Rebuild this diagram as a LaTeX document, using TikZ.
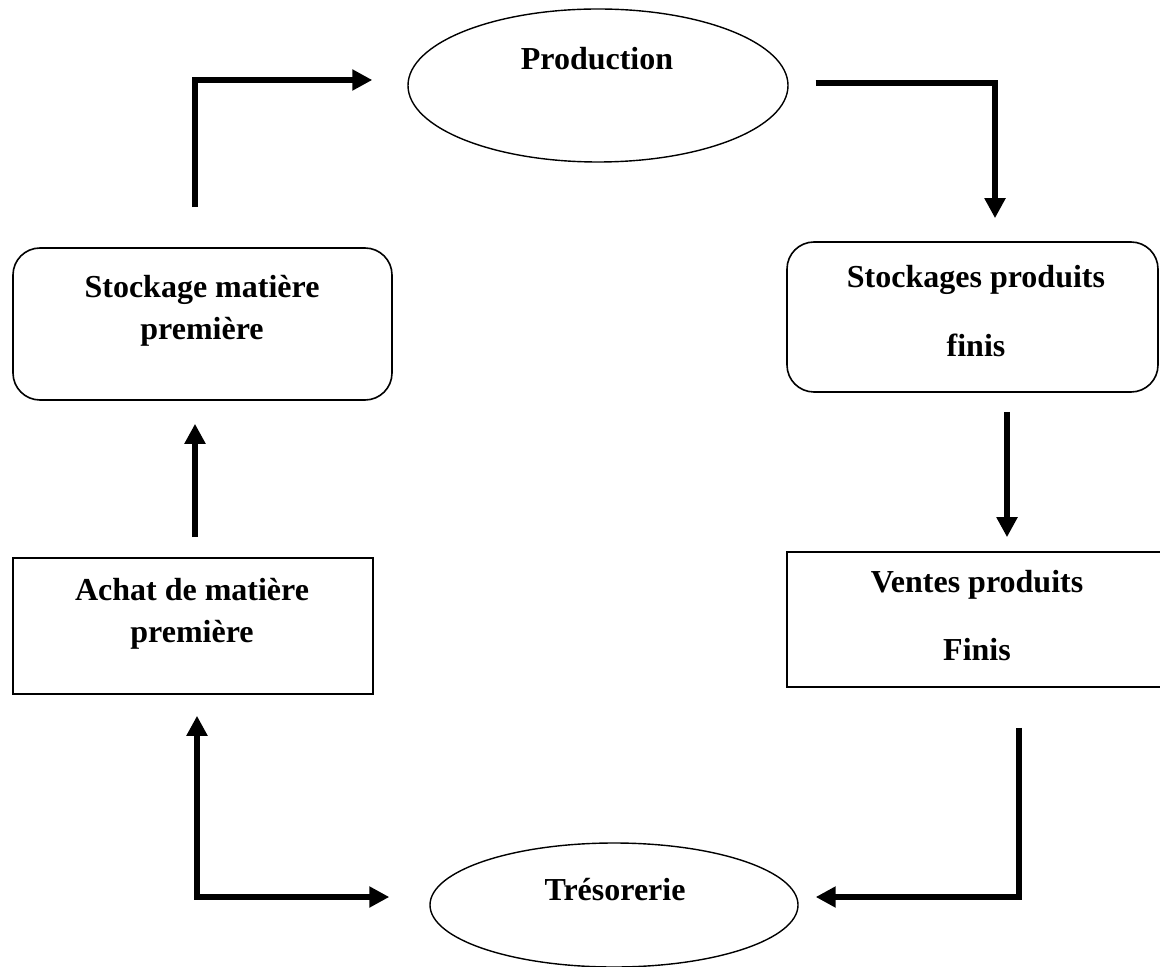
\documentclass[tikz,border=0pt]{standalone}
\usepackage{fontspec}
\setmainfont{Liberation Serif}
\usetikzlibrary{shapes.geometric,arrows.meta}

\begin{document}
\begin{tikzpicture}[x=0.5pt,y=-0.5pt,
        box/.style={draw,line width=0.8pt,inner sep=0pt},
        roundbox/.style={box,rounded corners=13.5pt},
        oval/.style={draw,ellipse,line width=0.7pt,inner sep=0pt},
        txt/.style={font=\fontsize{16}{21}\selectfont\bfseries,align=center,anchor=base,inner sep=0pt},
        flow/.style={line width=3pt},
        >={Triangle[length=10pt,width=10pt]}]

            \useasboundingbox (0,0) rectangle (1160,967);

            \node[oval,minimum width=190pt,minimum height=76.5pt] (prod) at (598,85.5) {};
            \node[roundbox,minimum width=189.5pt,minimum height=76pt] (smp) at (202.5,324) {};
            \node[roundbox,minimum width=185.5pt,minimum height=75pt] (spf) at (972.5,317) {};
            \node[box,minimum width=180pt,minimum height=68pt] (amp) at (193,626) {};
            \node[box,minimum width=191.5pt,minimum height=67.5pt] (vpf) at (978.5,619.5) {};
            \node[oval,minimum width=184pt,minimum height=62pt] (tres) at (614,905) {};

            \node[txt] (prodtxt) at (597,70) {Production};
            \node[txt] (smptxt) at (202,340) {Stockage matière\\première};
            \node[txt] (spftxt) at (976,357) {Stockages produits\\[13.5pt]finis};
            \node[txt] (amptxt) at (192,642) {Achat de matière\\première};
            \node[txt] (vpftxt) at (977,660) {Ventes produits\\[13pt]Finis};
            \node[txt] (trestxt) at (615,900) {Trésorerie};

            \draw[flow,->] ([xshift=-3.75pt,yshift=20pt]smp.north) |- ([xshift=-17.5pt,yshift=2.75pt]prod.west);
            \draw[flow,->] ([xshift=13.5pt,yshift=1.25pt]prod.east) -| ([xshift=11.25pt,yshift=11.5pt]spf.north);
            \draw[flow,->] ([xshift=17.25pt,yshift=-9.5pt]spf.south) -- ([xshift=14.25pt,yshift=7pt]vpf.north);
            \draw[flow,->] ([xshift=20.25pt,yshift=-20pt]vpf.south) |- ([xshift=8.5pt,yshift=4pt]tres.east);
            \draw[flow,<->] ([xshift=2pt,yshift=-10.5pt]amp.south) |- ([xshift=-20pt,yshift=4pt]tres.west);
            \draw[flow,->] ([xshift=1pt,yshift=10pt]amp.north) -- ([xshift=-3.75pt,yshift=-11.5pt]smp.south);
        \end{tikzpicture}
\end{document}
